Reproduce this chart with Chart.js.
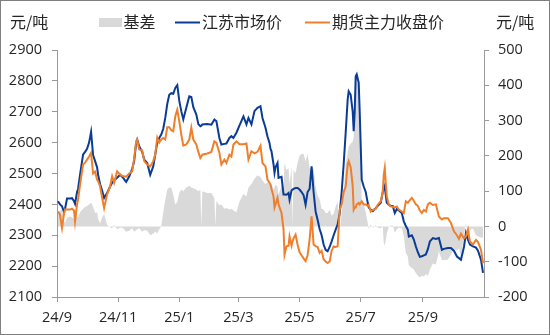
<!DOCTYPE html>
<html>
<head>
<meta charset="utf-8">
<script src="https://cdn.jsdelivr.net/npm/chart.js@4/dist/chart.umd.min.js"></script>
<style>
  html, body { margin: 0; padding: 0; background: #fff; }
  canvas { display: block; }
</style>
</head>
<body>
<canvas id="c" width="550" height="335"></canvas>
<script>
const seriesNames = ['基差', '江苏市场价', '期货主力收盘价'];
const unitLeft = '元/吨';
const unitRight = '元/吨';
const tickDates = ['2024-09-01','2024-11-01','2025-01-01','2025-03-01','2025-05-01','2025-07-01','2025-09-01'];
const tickLabels = ['24/9','24/11','25/1','25/3','25/5','25/7','25/9'];

const dates = [
 '2024-09-02','2024-09-04','2024-09-06','2024-09-08','2024-09-09','2024-09-11','2024-09-14','2024-09-16','2024-09-18','2024-09-19','2024-09-21','2024-09-22','2024-09-24','2024-09-27','2024-09-29',
 '2024-10-01','2024-10-03','2024-10-05','2024-10-07','2024-10-09','2024-10-11','2024-10-12','2024-10-14','2024-10-16','2024-10-18','2024-10-21','2024-10-24','2024-10-26','2024-10-28','2024-10-31',
 '2024-11-03','2024-11-06','2024-11-09','2024-11-12','2024-11-15','2024-11-17','2024-11-19','2024-11-20','2024-11-22','2024-11-25','2024-11-27','2024-11-30',
 '2024-12-03','2024-12-06','2024-12-08','2024-12-10','2024-12-12','2024-12-14','2024-12-16','2024-12-18','2024-12-20','2024-12-22','2024-12-24','2024-12-26','2024-12-28','2024-12-30',
 '2025-01-01','2025-01-03','2025-01-05','2025-01-08','2025-01-11','2025-01-13','2025-01-15','2025-01-18','2025-01-20','2025-01-22','2025-01-23','2025-01-24','2025-01-29',
 '2025-02-02','2025-02-05','2025-02-06','2025-02-07','2025-02-10','2025-02-12','2025-02-15','2025-02-17','2025-02-20','2025-02-22','2025-02-24','2025-02-27',
 '2025-03-02','2025-03-06','2025-03-09','2025-03-11','2025-03-14','2025-03-17','2025-03-20','2025-03-23','2025-03-25','2025-03-28','2025-03-30',
 '2025-04-01','2025-04-02','2025-04-03','2025-04-05','2025-04-06','2025-04-07','2025-04-09','2025-04-10','2025-04-13','2025-04-15','2025-04-16','2025-04-18','2025-04-20','2025-04-21','2025-04-23','2025-04-24','2025-04-25','2025-04-27','2025-04-29',
 '2025-05-01','2025-05-03','2025-05-05','2025-05-07','2025-05-09','2025-05-11','2025-05-13','2025-05-15','2025-05-17','2025-05-19','2025-05-21','2025-05-23','2025-05-25','2025-05-27','2025-05-29','2025-05-31',
 '2025-06-02','2025-06-04','2025-06-06','2025-06-08','2025-06-10','2025-06-12','2025-06-14','2025-06-16','2025-06-18','2025-06-19','2025-06-21','2025-06-23','2025-06-24','2025-06-25','2025-06-26','2025-06-27','2025-06-29','2025-06-30',
 '2025-07-02','2025-07-04','2025-07-06','2025-07-08','2025-07-09','2025-07-11','2025-07-13','2025-07-16','2025-07-18','2025-07-21','2025-07-23','2025-07-24','2025-07-25','2025-07-26','2025-07-27','2025-07-29','2025-07-31',
 '2025-08-02','2025-08-04','2025-08-06','2025-08-08','2025-08-11','2025-08-13','2025-08-15','2025-08-17','2025-08-18','2025-08-21','2025-08-23','2025-08-25','2025-08-27','2025-08-29','2025-08-31',
 '2025-09-02','2025-09-04','2025-09-06','2025-09-08','2025-09-11','2025-09-14','2025-09-17','2025-09-20','2025-09-22','2025-09-26','2025-09-29',
 '2025-10-02','2025-10-05','2025-10-07','2025-10-09','2025-10-12','2025-10-14','2025-10-16','2025-10-18','2025-10-21','2025-10-24','2025-10-26','2025-10-29','2025-10-30','2025-10-31'
];

const spotPrice = [
 2410,2400,2394,2375,2385,2419,2419,2420,2410,2402,2440,2450,2496,2561,2570,
 2580,2600,2635,2560,2540,2520,2496,2465,2445,2421,2437,2458,2470,2478,2486,
 2496,2486,2473,2490,2515,2540,2600,2610,2588,2570,2545,2534,
 2496,2523,2561,2600,2615,2626,2645,2680,2725,2755,2760,2758,2777,2786,
 2735,2702,2675,2713,2750,2748,2715,2691,2660,2653,2655,2659,2660,
 2658,2675,2672,2670,2615,2594,2596,2597,2615,2621,2615,2632,
 2655,2685,2659,2680,2659,2702,2713,2718,2680,2648,2620,
 2599,2580,2572,2530,2502,2520,2534,2486,2489,2432,2432,2431,2437,2415,2445,2448,2450,2453,2453,
 2448,2440,2430,2399,2440,2450,2523,2440,2377,2350,2320,2300,2270,2253,2248,2262,
 2280,2300,2318,2335,2370,2440,2530,2632,2740,2766,2755,2700,2637,2700,2815,2821,2794,2700,
 2480,2458,2440,2405,2390,2383,2378,2388,2395,2405,2440,2450,2460,2430,2405,2399,2395,
 2395,2372,2385,2380,2372,2345,2330,2318,2296,2300,2286,2264,2245,2230,2232,
 2235,2238,2255,2280,2291,2288,2291,2253,2256,2259,2259,
 2250,2231,2226,2221,2262,2307,2286,2270,2264,2260,2250,2221,2200,2178
];

const futuresClose = [
 2377,2367,2324,2370,2383,2383,2383,2386,2380,2345,2400,2415,2464,2529,2535,
 2545,2555,2567,2500,2506,2480,2475,2458,2422,2388,2432,2458,2491,2470,2507,
 2496,2491,2490,2500,2507,2550,2605,2610,2578,2575,2540,2529,
 2523,2540,2561,2616,2600,2610,2615,2610,2650,2650,2640,2637,2685,2707,
 2669,2626,2590,2594,2610,2648,2610,2594,2570,2550,2555,2561,2565,
 2570,2604,2602,2600,2567,2529,2545,2534,2561,2555,2594,2604,
 2595,2595,2597,2545,2572,2565,2570,2590,2534,2523,2480,
 2470,2464,2450,2426,2390,2400,2421,2400,2372,2320,2237,2264,2266,2296,2266,2280,2290,2302,2270,
 2245,2235,2225,2216,2235,2286,2361,2270,2265,2262,2243,2250,2222,2215,2210,2215,
 2250,2264,2262,2264,2383,2400,2440,2458,2530,2540,2520,2460,2383,2390,2390,2400,2405,2400,
 2410,2400,2400,2395,2398,2377,2382,2385,2399,2410,2440,2496,2518,2470,2426,2399,2393,
 2392,2390,2393,2383,2377,2372,2410,2405,2410,2421,2412,2400,2395,2380,2372,
 2382,2377,2400,2405,2398,2400,2361,2351,2355,2355,2340,
 2313,2300,2288,2305,2290,2296,2318,2280,2270,2285,2278,2253,2231,2210
];

const basisValue = [
 45,42,50,15,10,25,28,25,20,45,30,25,40,50,55,
 58,62,68,55,38,40,22,8,25,35,5,-2,-5,5,-8,
 -3,-5,-15,-12,-5,-15,-10,-8,-5,-15,-10,-12,
 -25,-20,-15,-20,-8,0,40,75,105,110,110,90,62,70,
 95,105,100,110,115,110,108,105,100,105,0,100,95,
 95,80,0,72,60,62,50,52,48,50,45,40,
 70,92,85,110,120,135,145,140,130,120,125,
 120,116,120,104,110,118,113,90,115,112,180,160,165,120,170,0,160,150,180,
 200,205,205,185,205,165,160,165,112,88,77,50,48,38,38,47,
 30,36,56,71,-13,40,90,174,210,226,235,240,254,310,425,421,389,300,
 70,58,40,10,-8,6,-4,3,-4,-5,0,-46,-55,-40,-21,0,2,
 3,-18,-8,-3,-5,-27,-75,-85,-110,-118,-122,-132,-140,-145,-140,
 -142,-135,-140,-122,-105,-108,-70,-95,-96,-94,-80,
 -63,-69,-62,-84,-28,11,-32,-10,-6,-25,-28,-32,-31,-32
];

const DAY = 86400000;
const origin = Date.parse('2024-09-01');
const dayOf = d => (Date.parse(d) - origin) / DAY;
const xs = dates.map(dayOf);
const tickX = tickDates.map(dayOf);
const pts = arr => arr.map((v, i) => ({ x: xs[i], y: v }));

const axisColor = '#9a9a9a';
const textColor = '#262626';
const tickFont = { family: '"Open Sans", "Noto Sans CJK SC", sans-serif', size: 14.5 };
const cjkFont = '16px "Noto Sans CJK SC", sans-serif';
const blue = '#0a3b95';
const orange = '#f07f2b';
const gray = '#d9d9d9';
const plainNum = v => String(v);

const decor = {
  id: 'decor',
  beforeDraw(chart) {
    const c = chart.ctx;
    c.save();
    c.fillStyle = '#fff';
    c.fillRect(0, 0, chart.width, chart.height);
    c.restore();
  },
  afterDraw(chart) {
    const c = chart.ctx;
    c.save();
    c.font = cjkFont;
    c.fillStyle = textColor;
    c.textBaseline = 'middle';
    c.textAlign = 'left';
    c.fillText(unitLeft, 10, 22);
    c.fillText(unitRight, 496, 22);
    c.fillStyle = gray;
    c.fillRect(99, 18, 23, 9);
    c.fillStyle = textColor;
    c.fillText(seriesNames[0], 123.5, 22);
    c.lineWidth = 2;
    c.strokeStyle = blue;
    c.beginPath(); c.moveTo(175, 22.5); c.lineTo(200, 22.5); c.stroke();
    c.fillText(seriesNames[1], 202, 22);
    c.strokeStyle = orange;
    c.beginPath(); c.moveTo(305, 22.5); c.lineTo(330, 22.5); c.stroke();
    c.fillText(seriesNames[2], 332, 22);
    c.lineWidth = 1;
    c.strokeStyle = '#7f7f7f';
    c.strokeRect(0.5, 0.5, 549, 334);
    c.restore();
  }
};

new Chart(document.getElementById('c'), {
  type: 'line',
  data: {
    datasets: [
      { label: seriesNames[0], data: pts(basisValue), yAxisID: 'y2', fill: 'origin',
        backgroundColor: gray, borderColor: gray, borderWidth: 0, pointRadius: 0, order: 3 },
      { label: seriesNames[1], data: pts(spotPrice), yAxisID: 'y', fill: false,
        borderColor: blue, borderWidth: 2, pointRadius: 0, order: 2 },
      { label: seriesNames[2], data: pts(futuresClose), yAxisID: 'y', fill: false,
        borderColor: orange, borderWidth: 2, pointRadius: 0, order: 1 }
    ]
  },
  options: {
    responsive: false,
    animation: false,
    devicePixelRatio: 1,
    layout: { padding: { top: 50, left: 0, right: 0, bottom: 0 } },
    elements: { line: { tension: 0 } },
    plugins: { legend: { display: false }, tooltip: { enabled: false } },
    scales: {
      x: {
        type: 'linear', min: 0, max: 426,
        afterBuildTicks: s => { s.ticks = tickX.map(v => ({ value: v })); },
        afterFit: s => { s.height = 38; },
        grid: { drawOnChartArea: false, color: axisColor, tickLength: 5 },
        border: { color: axisColor },
        ticks: { autoSkip: false, maxRotation: 0, padding: 7, font: tickFont, color: textColor,
                 callback: (v, i) => tickLabels[i] }
      },
      y: {
        position: 'left', min: 2100, max: 2900,
        afterFit: s => { s.width = 57; },
        grid: { drawOnChartArea: false, color: axisColor, tickLength: 5 },
        border: { color: axisColor },
        ticks: { stepSize: 100, padding: 10, font: tickFont, color: textColor, callback: plainNum }
      },
      y2: {
        position: 'right', min: -200, max: 500,
        afterFit: s => { s.width = 66; },
        grid: { drawOnChartArea: false, color: axisColor, tickLength: 5 },
        border: { color: axisColor },
        ticks: { stepSize: 100, padding: 9, font: tickFont, color: textColor, callback: plainNum }
      }
    }
  },
  plugins: [decor]
});
</script>
</body>
</html>
